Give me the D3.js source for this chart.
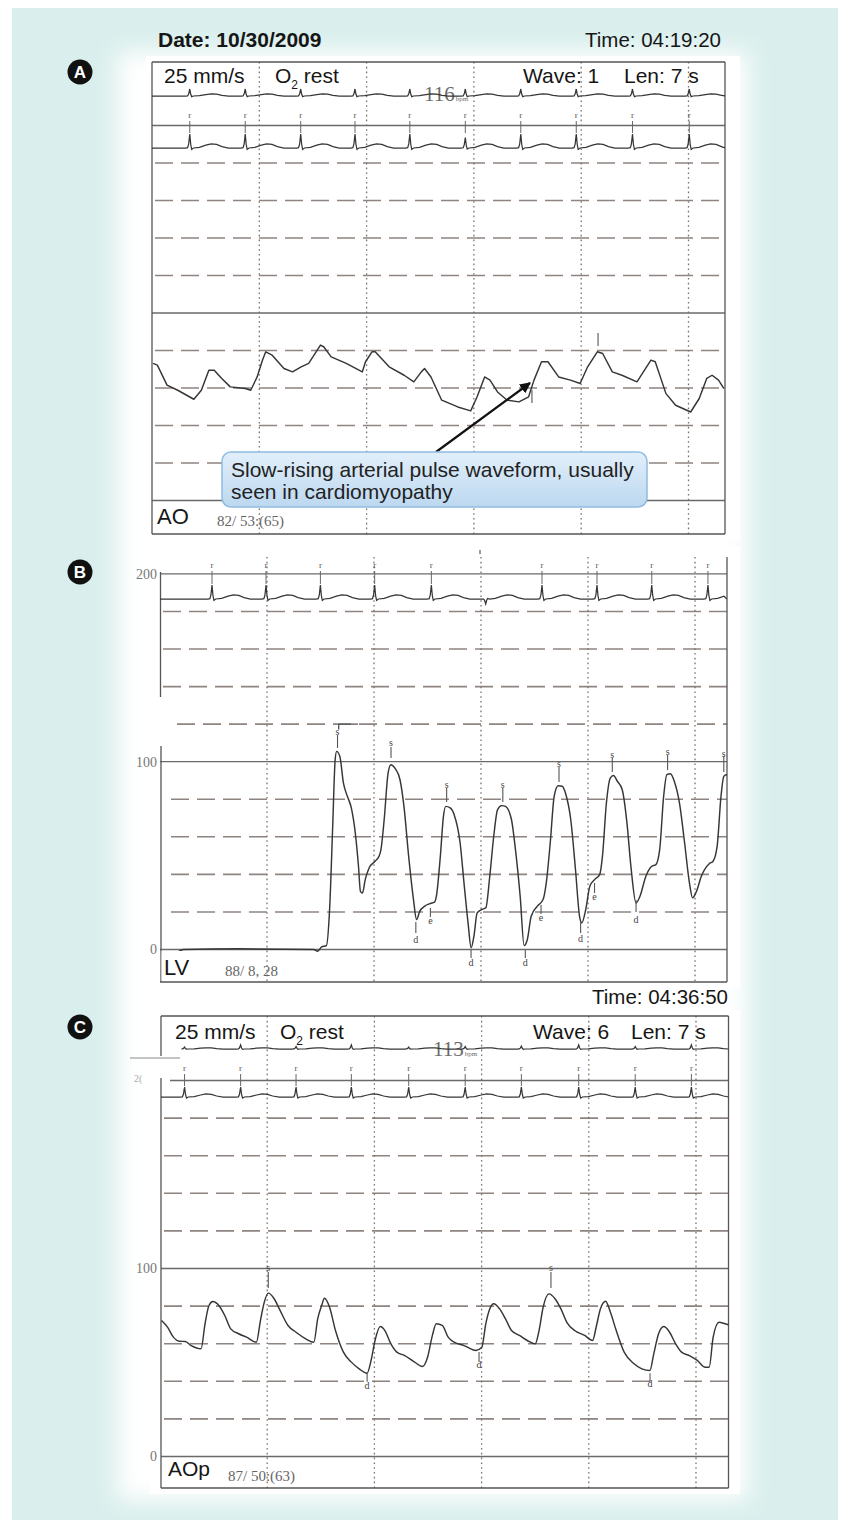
<!DOCTYPE html>
<html><head><meta charset="utf-8">
<script src="https://cdn.jsdelivr.net/npm/d3@7"></script>
<style>body{margin:0;background:#fff}svg{display:block}</style>
</head><body>
<svg id="c" width="851" height="1530"></svg>
<script>
// ---------------- DATA ----------------
// Panel A: aortic pressure (AO), time in s, pressure in mmHg
const aoTimes = [0.01,0.05,0.14,0.24,0.39,0.46,0.53,0.58,0.65,0.73,0.87,0.92,0.98,1.03,1.06,1.12,1.23,1.31,1.39,1.46,1.51,1.57,1.60,1.67,1.81,1.96,1.99,2.05,2.08,2.21,2.35,2.44,2.51,2.54,2.60,2.70,2.85,2.97,3.03,3.10,3.15,3.22,3.31,3.42,3.51,3.56,3.63,3.69,3.79,3.90,3.99,4.06,4.15,4.20,4.29,4.38,4.52,4.59,4.65,4.69,4.79,4.88,5.02,5.10,5.17,5.22,5.28,5.33];
const aoValues = [73.1,72.2,61.5,58.8,54.0,58.8,69.5,69.5,65.1,60.6,59.7,58.8,65.9,74.9,79.3,77.5,70.4,68.6,71.3,73.1,77.5,82.9,82.0,76.6,73.1,68.6,74.0,79.3,79.3,71.3,66.8,63.3,68.6,70.4,65.9,53.5,49.9,47.8,55.3,65.9,64.2,57.9,53.5,52.6,55.3,64.2,74.0,74.0,65.9,64.2,62.4,71.3,79.3,78.4,68.6,66.8,63.3,69.5,74.9,74.0,57.0,50.8,47.2,54.4,65.1,66.8,64.2,59.7];

// Panel B: left ventricular pressure (LV)
const lvTimes = [0.014,0.144,0.218,0.735,1.437,1.474,1.511,1.555,1.585,1.614,1.637,1.651,1.681,1.714,1.751,1.788,1.825,1.855,1.873,1.892,1.918,1.954,2.010,2.047,2.065,2.095,2.132,2.158,2.195,2.243,2.280,2.324,2.369,2.398,2.428,2.472,2.527,2.565,2.583,2.620,2.649,2.671,2.712,2.749,2.805,2.841,2.879,2.908,2.934,2.964,3.008,3.045,3.082,3.119,3.155,3.193,3.229,3.285,3.322,3.366,3.403,3.433,3.469,3.525,3.580,3.610,3.647,3.684,3.721,3.758,3.794,3.839,3.883,3.921,3.942,3.979,4.017,4.061,4.109,4.135,4.172,4.208,4.238,4.275,4.320,4.364,4.401,4.449,4.486,4.541,4.596,4.634,4.670,4.707,4.737,4.770,4.807,4.855,4.903,4.948,4.977,5.014,5.059,5.133,5.169,5.207,5.243,5.269,5.292,5.317];
const lvValues = [-1.4,-1.8,0,0.35,0,-0.9,1.4,2.1,21.3,65.6,101.1,105.5,102.8,88.7,81.6,75.4,62.1,44.3,31.0,30.1,37.2,43.4,47.0,49.6,53.2,69.1,94.0,98.4,96.6,90.4,76.2,49.6,26.6,15.9,20.4,23.0,24.5,25.2,28.4,49.6,70.9,76.2,75.4,71.8,56.7,35.5,14.2,0.9,7.1,19.5,21.3,22.2,39.0,60.3,74.5,76.6,76.2,69.1,53.2,28.4,2.1,5.3,17.7,23.0,26.6,35.5,56.7,81.6,87.2,86.9,82.4,69.1,42.6,17.7,14.2,21.3,33.7,37.2,39.9,49.6,78.0,91.3,92.6,89.5,85.1,67.4,44.3,24.8,28.4,39.0,44.3,45.2,53.2,81.6,93.1,93.6,89.5,78.0,56.7,35.5,27.5,31.0,39.0,45.7,47.0,55.0,81.6,92.2,93.1,92.2];

// Panel C: aortic pressure (AOp)
const aopTimes = [0.014,0.070,0.125,0.180,0.235,0.291,0.383,0.420,0.457,0.493,0.549,0.604,0.660,0.733,0.807,0.899,0.937,0.973,1.010,1.065,1.120,1.194,1.269,1.360,1.435,1.471,1.508,1.534,1.582,1.637,1.711,1.785,1.858,1.932,1.969,2.006,2.054,2.098,2.154,2.209,2.283,2.375,2.449,2.496,2.541,2.577,2.633,2.688,2.743,2.836,2.947,3.002,3.039,3.076,3.113,3.168,3.223,3.279,3.353,3.426,3.500,3.536,3.574,3.629,3.685,3.740,3.795,3.868,3.961,4.035,4.072,4.108,4.157,4.201,4.256,4.330,4.422,4.495,4.570,4.606,4.651,4.699,4.754,4.810,4.865,4.938,5.012,5.086,5.123,5.160,5.215,5.271,5.326];
const aopValues = [72.3,68.8,63.5,61.3,61.2,59.0,57.3,70.6,80.3,82.4,80.3,75.0,67.9,65.3,63.5,60.8,72.3,82.1,86.9,83.9,77.7,69.7,66.1,62.6,60.8,73.2,80.3,84.2,79.4,67.0,55.5,50.2,46.6,44.3,51.1,61.7,69.1,67.0,59.9,55.5,53.7,50.2,47.9,52.8,64.4,70.6,69.7,63.5,60.8,59.0,56.4,58.1,70.6,78.5,81.2,78.5,73.2,67.0,64.4,61.7,59.9,67.0,79.4,86.5,83.9,78.5,71.4,67.0,64.4,61.7,69.7,78.5,82.6,76.8,67.0,55.5,49.3,46.6,45.7,54.6,65.3,69.1,66.1,59.9,55.5,53.7,51.1,47.5,47.5,63.5,71.4,70.6,69.7];

// ECG beats (R-wave times, s) and relative R amplitudes
const aBeatTimes = [0.352,0.869,1.386,1.892,2.403,2.920,3.437,3.954,4.478,5.007];
const aEcg1Amps  = [1,1,1,1,1,1,1,1,1,1];
const aEcg2Amps  = [1,1,1,1,1,0.75,1,1,1,1];
const bBeatTimes = [0.486,0.991,1.499,2.006,2.536,3.044,3.570,4.084,4.596,5.121];
const bEcgAmps   = [1,1,1,1,1,-0.35,1,1,1,1];
const cBeatTimes = [0.229,0.752,1.269,1.785,2.320,2.847,3.371,3.906,4.433,4.957];
const cEcg1Amps  = [0.5,1,0.6,1,0.5,0.6,0.7,1,0.6,1];
const cEcg2Amps  = [1,1,1,1,1,1,1,1,1,1];
// ECG beat shape (time offset from R in s, relative amplitude)
const ecgShapeDt  = [-0.04,-0.02,-0.01,0,0.009,0.018,0.035,0.09,0.15,0.20,0.25,0.30,0.36];
const ecgShapeAmp = [0,0.02,0.3,1,0.25,-0.1,0,0.04,0.2,0.3,0.26,0.1,0];

// Annotation marks: [time s, mmHg of letter, label, tick from mmHg, tick to mmHg]
const lvMarks = [
  [1.659,116.3,"s",114.2,107.3],[2.159,110.0,"s",107.8,102.0],[2.679,87.6,"s",86.0,78.5],[3.204,87.6,"s",86.0,78.5],
  [3.729,98.8,"s",97.2,89.2],[4.227,103.6,"s",102.0,94.5],[4.744,105.2,"s",103.6,95.6],[5.269,104.6,"s",103.0,94.5],
  [2.391,5.1,"d",14.6,8.8],[2.907,-6.7,"d",-0.3,-4.5],[3.414,-6.7,"d",-0.3,-4.5],[3.931,5.6,"d",14.6,8.8],[4.449,16.2,"d",26.4,20.0],
  [2.527,15.2,"e",22.1,17.3],[3.561,17.3,"e",23.7,18.9],[4.061,28.0,"e",35.4,30.1]
];
const aopMarks = [
  [1.010,100.3,"s",98.2,89.6],[3.647,100.3,"s",98.2,89.6],
  [1.932,38.0,"d",44.3,39.8],[2.976,48.7,"d",55.6,50.3],[4.571,38.6,"d",44.3,39.8]
];
const aoMarks = [[4.157,null,"",89.3,82.4],[3.541,null,"",58.9,52.0]];

// Grid levels (mmHg) and second marks
const solidLevels = [0,100,200];
const dashedLevels = [20,40,60,80,120,140,160,180];
const secondMarks = [1,2,3,4,5];
const axisLabelsB = [[200,"200"],[100,"100"],[0,"0"]];
const axisLabelsC = [[100,"100"],[0,"0"]];

// ---------------- DRAWING ----------------
const svg = d3.select('#c');
const defs = svg.append('defs');
const ng = defs.append('linearGradient').attr('id','ng').attr('x1',0).attr('y1',0).attr('x2',0).attr('y2',1);
[[0,'#e2effa'],[1,'#bcd8f0']].forEach(s=>ng.append('stop').attr('offset',s[0]).attr('stop-color',s[1]));
defs.append('filter').attr('id','soft').attr('x','-10%').attr('y','-10%').attr('width','120%').attr('height','120%')
  .append('feGaussianBlur').attr('stdDeviation',11);
defs.append('marker').attr('id','arr').attr('viewBox','0 0 10 10').attr('refX',9).attr('refY',5)
  .attr('markerWidth',5).attr('markerHeight',5).attr('orient','auto')
  .append('path').attr('d','M0,0L10,5L0,10z').attr('fill','#111');

svg.append('rect').attr('x',12).attr('y',8).attr('width',826).attr('height',1512).attr('fill','#daefed');
svg.append('rect').attr('x',118).attr('y',52).attr('width',630).attr('height',1448).attr('fill','#ffffff').attr('filter','url(#soft)');

const SANS = "'Liberation Sans', Arial, Helvetica, sans-serif";
const SERIF = "'Liberation Serif', 'Times New Roman', serif";
const TRACE = '#363636';

function makePanel(cfg){
  const g = svg.append('g');
  const x = d3.scaleLinear().domain([0,(cfg.right-cfg.x0)/cfg.pps]).range([cfg.x0,cfg.right]);
  const y = d3.scaleLinear().domain([0,100]).range([cfg.zeroY, cfg.zeroY-100*cfg.k]);
  g.append('rect').attr('x',cfg.paper[0]).attr('y',cfg.paper[1]).attr('width',cfg.paper[2]).attr('height',cfg.paper[3]).attr('fill','#fff');
  const cid = 'clip'+cfg.id;
  defs.append('clipPath').attr('id',cid).append('rect').attr('x',cfg.left).attr('y',cfg.top).attr('width',cfg.right-cfg.left).attr('height',cfg.bottom-cfg.top);
  g.selectAll('line.dash').data(dashedLevels.filter(d=>y(d)>cfg.top+8)).join('line')
    .attr('x1',d=>cfg.left+(cfg.dashStart&&cfg.dashStart[d]?cfg.dashStart[d]:3)).attr('x2',cfg.right).attr('y1',d=>y(d)).attr('y2',d=>y(d))
    .attr('stroke','#8e8480').attr('stroke-width',1.6).attr('stroke-dasharray','18,8');
  g.selectAll('line.solid').data(solidLevels.filter(d=>y(d)>cfg.top)).join('line')
    .attr('x1',d=>cfg.left+(cfg.solidStart&&cfg.solidStart[d]?cfg.solidStart[d]:0)).attr('x2',cfg.right).attr('y1',d=>y(d)).attr('y2',d=>y(d))
    .attr('stroke','#6a6a6a').attr('stroke-width',1.3);
  g.selectAll('line.sec').data(secondMarks).join('line')
    .attr('x1',d=>x(d)).attr('x2',d=>x(d)).attr('y1',cfg.top).attr('y2',cfg.bottom)
    .attr('stroke','#7d706b').attr('stroke-width',1.3).attr('stroke-dasharray','1.6,3.2');
  return {g,x,y,cid};
}

function drawFrame(g, segs){
  segs.forEach(s=>g.append('line').attr('x1',s[0]).attr('y1',s[1]).attr('x2',s[2]).attr('y2',s[3])
    .attr('stroke','#555').attr('stroke-width',1.3));
}

function drawPressure(P, times, values, curve){
  const pts = times.map((t,i)=>[t,values[i]]);
  P.g.append('path').attr('clip-path',`url(#${P.cid})`).datum(pts)
    .attr('d', d3.line().x(d=>P.x(d[0])).y(d=>P.y(d[1])).curve(curve||d3.curveMonotoneX))
    .attr('fill','none').attr('stroke',TRACE).attr('stroke-width',1.45).attr('stroke-linejoin','round');
}

function drawEcg(P, beats, amps, baseY, height, t0){
  const ey = d3.scaleLinear().domain([0,1]).range([baseY, baseY-height]);
  const tMax = P.x.domain()[1];
  const start = t0||0;
  const pts = [[start,0]];
  beats.forEach((b,i)=>{
    ecgShapeDt.forEach((dt,j)=>{
      const a = Math.abs(dt)<=0.02 ? ecgShapeAmp[j]*amps[i] : ecgShapeAmp[j];
      pts.push([b+dt,a]);
    });
  });
  pts.push([tMax,0]);
  P.g.append('path').attr('clip-path',`url(#${P.cid})`).datum(pts.filter(p=>p[0]<=tMax && p[0]>=start))
    .attr('d', d3.line().x(d=>P.x(d[0])).y(d=>ey(d[1])))
    .attr('fill','none').attr('stroke',TRACE).attr('stroke-width',1.25);
}

function drawRMarks(P, beats, amps, letterY, tickTop, tickBot){
  beats.forEach((b,i)=>{
    if (amps[i] < 0) return;
    P.g.append('text').attr('x',P.x(b)).attr('y',letterY).attr('text-anchor','middle')
      .attr('font-family',SERIF).attr('font-size',9).attr('fill','#555').text('r');
    P.g.append('line').attr('x1',P.x(b)).attr('x2',P.x(b)).attr('y1',tickTop).attr('y2',tickBot)
      .attr('stroke','#666').attr('stroke-width',1);
  });
}

function drawMarks(P, marks){
  marks.forEach(m=>{
    P.g.append('line').attr('x1',P.x(m[0])).attr('x2',P.x(m[0])).attr('y1',P.y(m[3])).attr('y2',P.y(m[4]))
      .attr('stroke','#555').attr('stroke-width',1.1);
    if (m[2]) P.g.append('text').attr('x',P.x(m[0])).attr('y',P.y(m[1])).attr('dy','0.35em').attr('text-anchor','middle')
      .attr('font-family',SERIF).attr('font-size',10).attr('fill','#444').text(m[2]);
  });
}

function sansText(g,x,y,txt,opt){
  opt = opt||{};
  return g.append('text').attr('x',x).attr('y',y).attr('font-family',SANS)
    .attr('font-size',opt.size||21).attr('fill',opt.fill||'#161616')
    .attr('font-weight',opt.bold?'bold':'normal').attr('text-anchor',opt.anchor||'start').text(txt);
}
function o2Text(g,x,y){
  const t = g.append('text').attr('x',x).attr('y',y).attr('font-family',SANS).attr('font-size',21).attr('fill','#161616');
  t.append('tspan').text('O');
  t.append('tspan').attr('font-size',12).attr('dy',6).text('2');
  t.append('tspan').attr('dy',-6).text(' rest');
}
function bpmText(g,x,y,num){
  const t = g.append('text').attr('x',x).attr('y',y).attr('font-family',SERIF).attr('font-size',21).attr('fill','#6a6a6a');
  t.append('tspan').text(num);
  t.append('tspan').attr('font-size',7).attr('dx',1).text('bpm');
}
function badge(x,y,l){
  svg.append('circle').attr('cx',x).attr('cy',y).attr('r',12.5).attr('fill','#111');
  svg.append('text').attr('x',x).attr('y',y+6).attr('text-anchor','middle').attr('font-family',SANS)
    .attr('font-weight','bold').attr('font-size',17).attr('fill','#fff').text(l);
}

// ----- Panel A -----
const A = makePanel({id:'A',left:152,right:725,top:62,bottom:534,x0:152,pps:107.3,zeroY:500.5,k:1.875,paper:[146,56,594,485]});
drawFrame(A.g,[[152,62,725,62],[152,62,152,534],[725,62,725,534],[152,534,725,534]]);
sansText(svg,158,47,'Date: 10/30/2009',{bold:true,size:21});
sansText(svg,721,47,'Time: 04:19:20',{anchor:'end',size:20.5});
badge(80,72,'A');
sansText(A.g,164,83,'25 mm/s');
o2Text(A.g,275,83);
sansText(A.g,523,83,'Wave: 1');
sansText(A.g,624,83,'Len: 7 s');
bpmText(A.g,424,101,'116');
drawEcg(A, aBeatTimes, aEcg1Amps, 96, 7);
drawEcg(A, aBeatTimes, aEcg2Amps, 148, 14);
drawRMarks(A, aBeatTimes, aEcg2Amps, 118, 121, 133);
drawPressure(A, aoTimes, aoValues, d3.curveLinear);
drawMarks(A, aoMarks);
A.g.append('rect').attr('x',153).attr('y',502).attr('width',53).attr('height',31).attr('fill','#fff');
sansText(A.g,157,524,'AO',{size:22});
A.g.append('text').attr('x',217).attr('y',526).attr('font-family',SERIF).attr('font-size',15).attr('fill','#666').text('82/ 53:(65)');
// annotation
A.g.append('line').attr('x1',436).attr('y1',452).attr('x2',530).attr('y2',383)
  .attr('stroke','#111').attr('stroke-width',2.2).attr('marker-end','url(#arr)');
A.g.append('rect').attr('x',222).attr('y',452).attr('width',425).attr('height',55).attr('rx',9)
  .attr('fill','url(#ng)').attr('stroke','#8fbce2').attr('stroke-width',1.5);
sansText(A.g,231,477,'Slow-rising arterial pulse waveform, usually',{size:21,fill:'#222'});
sansText(A.g,231,499,'seen in cardiomyopathy',{size:21,fill:'#222'});

// ----- Panel B -----
const B = makePanel({id:'B',left:160,right:727,top:557,bottom:982,x0:160,pps:107,zeroY:949.5,k:1.878,paper:[148,546,592,442],dashStart:{120:17,80:11,60:11,40:11,20:11}});
drawFrame(B.g,[[160.5,572,160.5,697],[161,746,161,982],[727,557,727,982],[160,982,727,982]]);
badge(80,572,'B');
B.g.selectAll('text.ax').data(axisLabelsB).join('text').attr('x',157).attr('y',d=>B.y(d[0])).attr('dy','0.35em')
  .attr('text-anchor','end').attr('font-family',SERIF).attr('font-size',14).attr('fill','#777').text(d=>d[1]);
drawEcg(B, bBeatTimes, bEcgAmps, 599, 14);
drawRMarks(B, bBeatTimes, bEcgAmps, 568, 571, 584);
B.g.append('line').attr('x1',480).attr('x2',480).attr('y1',550).attr('y2',554).attr('stroke','#777').attr('stroke-width',1.5);
drawPressure(B, lvTimes, lvValues);
drawMarks(B, lvMarks);
B.g.append('path').datum([[1.67,117.2],[1.67,120],[1.85,120]])
  .attr('d', d3.line().x(d=>B.x(d[0])).y(d=>B.y(d[1]))).attr('fill','none').attr('stroke','#555').attr('stroke-width',1.3);
B.g.append('rect').attr('x',161.5).attr('y',951).attr('width',54).attr('height',30).attr('fill','#fff');
sansText(B.g,164,975,'LV',{size:22});
B.g.append('text').attr('x',225).attr('y',976).attr('font-family',SERIF).attr('font-size',15).attr('fill','#666').text('88/ 8, 28');

// ----- Panel C -----
const C = makePanel({id:'C',left:161,right:728.5,top:1016,bottom:1488,x0:160,pps:107.2,zeroY:1456.5,k:1.88,paper:[150,1010,590,484],solidStart:{200:9}});
drawFrame(C.g,[[161,1016,728.5,1016],[161,1016,161,1056],[161,1078,161,1488],[728.5,1016,728.5,1488],[161,1488,728.5,1488]]);
sansText(svg,728,1004,'Time: 04:36:50',{anchor:'end',size:20.5});
badge(80,1027,'C');
svg.append('line').attr('x1',130).attr('x2',180).attr('y1',1058).attr('y2',1058).attr('stroke','#8a8a8a').attr('stroke-width',1.2);
svg.append('text').attr('x',134).attr('y',1082).attr('font-family',SERIF).attr('font-size',10).attr('fill','#aaa').text('2(');
C.g.selectAll('text.ax').data(axisLabelsC).join('text').attr('x',157).attr('y',d=>C.y(d[0])).attr('dy','0.35em')
  .attr('text-anchor','end').attr('font-family',SERIF).attr('font-size',14).attr('fill','#777').text(d=>d[1]);
sansText(C.g,175,1039,'25 mm/s');
o2Text(C.g,280,1039);
sansText(C.g,533,1039,'Wave: 6');
sansText(C.g,631,1039,'Len: 7 s');
bpmText(C.g,433,1056,'113');
drawEcg(C, cBeatTimes, cEcg1Amps, 1049, 4, 0.2);
drawEcg(C, cBeatTimes, cEcg2Amps, 1097, 10);
drawRMarks(C, cBeatTimes, cEcg2Amps, 1071, 1074, 1086);
drawPressure(C, aopTimes, aopValues);
drawMarks(C, aopMarks);
C.g.append('rect').attr('x',162).attr('y',1458).attr('width',58).attr('height',29).attr('fill','#fff');
sansText(C.g,168,1476,'AOp');
C.g.append('text').attr('x',228).attr('y',1481).attr('font-family',SERIF).attr('font-size',15).attr('fill','#666').text('87/ 50:(63)');
</script>
</body></html>
